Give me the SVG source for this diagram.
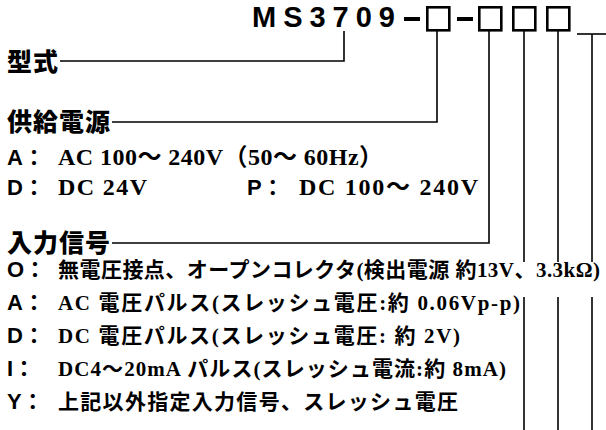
<svg xmlns="http://www.w3.org/2000/svg" width="606" height="430" viewBox="0 0 606 430">
<style>
.bg{fill:#fff}
.ttl{font-family:"Liberation Sans",Arial,sans-serif;font-weight:bold;font-size:29px;fill:#000}
.hd{font-family:"Noto Sans CJK JP",sans-serif;font-weight:900;font-size:25px;fill:#000}
.lb{font-family:"Liberation Sans","Noto Sans CJK JP",sans-serif;font-weight:bold;font-size:22px;fill:#000}
.tx{font-family:"Liberation Serif","Noto Sans CJK JP",serif;font-weight:bold;font-size:24px;fill:#000}
.tx2{font-family:"Liberation Serif","Noto Sans CJK JP",serif;font-weight:bold;font-size:21px;fill:#000}
.ln{stroke:#000;stroke-width:1.6;fill:none}
.box{stroke:#000;stroke-width:2.6;fill:#fff}
.dash{fill:#000}
</style>
<rect class="bg" x="0" y="0" width="606" height="430"/>
<g id="title">
<text class="ttl" x="252" y="27" textLength="143">MS3709</text>
<rect class="dash" x="404" y="17" width="16" height="4"/>
<rect class="box" x="427.3" y="7.3" width="22" height="23"/>
<rect class="dash" x="457" y="17" width="16" height="4"/>
<rect class="box" x="479.3" y="7.3" width="22" height="23"/>
<rect class="box" x="513.3" y="7.3" width="22" height="23"/>
<rect class="box" x="547.3" y="7.3" width="22" height="23"/>
</g>
<g id="connectors">
<polyline class="ln" points="344,31 344,61 60,61"/>
<polyline class="ln" points="437,31 437,122 112,122"/>
<polyline class="ln" points="489,31 489,243 112,243"/>
<line class="ln" x1="577" y1="34" x2="606" y2="34"/>
<line class="ln" x1="524" y1="31" x2="524" y2="262"/>
<line class="ln" x1="558" y1="31" x2="558" y2="262"/>
<line class="ln" x1="592" y1="34" x2="592" y2="262"/>
<line class="ln" x1="524" y1="297" x2="524" y2="430"/>
<line class="ln" x1="558" y1="297" x2="558" y2="430"/>
<line class="ln" x1="592" y1="297" x2="592" y2="430"/>
</g>
<g id="model">
<text class="hd" x="7" y="71" textLength="51">型式</text>
</g>
<g id="power">
<text class="hd" x="7" y="131" textLength="103">供給電源</text>
<text class="lb" x="7" y="165">A：</text>
<text class="tx" x="58" y="165" textLength="325">AC 100～ 240V（50～ 60Hz）</text>
<text class="lb" x="7" y="195">D：</text>
<text class="tx" x="58" y="195" textLength="89">DC 24V</text>
<text class="lb" x="247" y="195">P：</text>
<text class="tx" x="299" y="195" textLength="179">DC 100～ 240V</text>
</g>
<g id="input">
<text class="hd" x="7" y="252" textLength="103">入力信号</text>
<text class="lb" x="7" y="277">O：</text>
<text class="tx2" x="58" y="277" textLength="542">無電圧接点、オープンコレクタ(検出電源 約13V、3.3kΩ)</text>
<text class="lb" x="7" y="310">A：</text>
<text class="tx2" x="58" y="310" textLength="462">AC 電圧パルス(スレッシュ電圧:約 0.06Vp-p)</text>
<text class="lb" x="7" y="343">D：</text>
<text class="tx2" x="58" y="343" textLength="402">DC 電圧パルス(スレッシュ電圧: 約 2V)</text>
<text class="lb" x="7" y="376">I：</text>
<text class="tx2" x="58" y="376" textLength="448">DC4～20mA パルス(スレッシュ電流:約 8mA)</text>
<text class="lb" x="7" y="409">Y：</text>
<text class="tx2" x="58" y="409" textLength="400">上記以外指定入力信号、スレッシュ電圧</text>
</g>
</svg>
